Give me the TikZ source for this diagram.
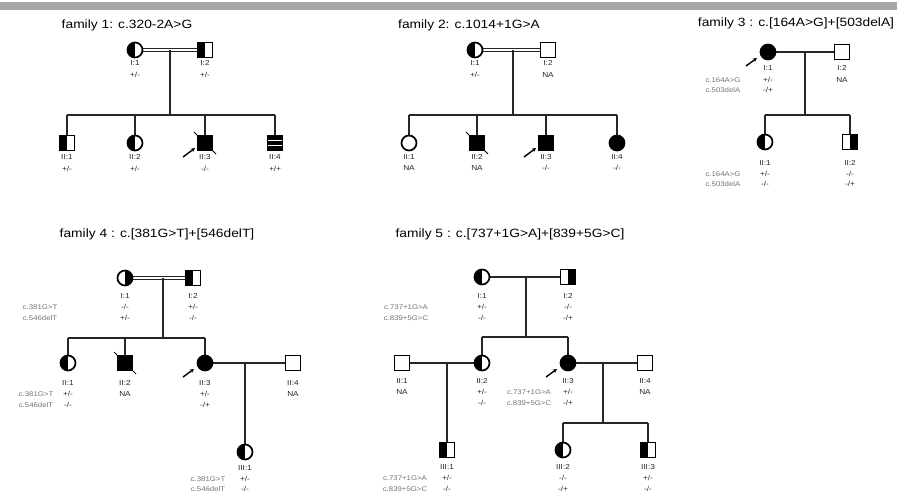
\documentclass[tikz,border=0pt]{standalone}
\usepackage{fontspec}
\setmainfont[FakeStretch=1.15]{Liberation Sans}
\usetikzlibrary{calc,arrows.meta,backgrounds}
\tikzset{
  ln/.style={line width=1.6pt, draw=black!85},
  dl/.style={line width=1.2pt, draw=black!85},
  sym/.style={draw=black, line width=1.7pt, fill=white, inner sep=0pt, minimum size=15pt},
  mal/.style={sym, rectangle},
  fem/.style={sym, circle},
  aff/.style={fill=black},
  hl/.style={path picture={\fill[black] (path picture bounding box.south west) rectangle (path picture bounding box.north);}},
  hr/.style={path picture={\fill[black] (path picture bounding box.south) rectangle (path picture bounding box.north east);}},
  striped/.style={fill=black, path picture={
      \draw[white, line width=1.3pt] ([yshift=2.5pt]path picture bounding box.west) -- ([yshift=2.5pt]path picture bounding box.east);
      \draw[white, line width=1.3pt] ([yshift=-2.5pt]path picture bounding box.west) -- ([yshift=-2.5pt]path picture bounding box.east);}},
  lab/.style={font=\fontsize{7.2}{8}\selectfont, inner sep=0pt, text=black!85},
  sml/.style={font=\fontsize{6.8}{7}\selectfont, inner sep=0pt, text=black!55},
  ttl/.style={font=\fontsize{12}{13}\selectfont, inner sep=0pt},
  dec/.style={line width=1pt, draw=black},
  prob/.style={-{Stealth[length=4pt,width=4pt]}, line width=1.4pt, draw=black}
}
\begin{document}
\begin{tikzpicture}[x=1pt,y=-1pt]
\useasboundingbox (0,0) rectangle (897,495);
\fill[black!35] (0,2) rectangle (897,10);

% ---------------- family 1
\node[ttl] (t1) at (127,25) {family 1: c.320-2A>G};
\node[fem,hl] (a1) at (135,50) {};
\node[mal,hl] (a2) at (205,50) {};
\node[mal,hl] (b1) at (67,143) {};
\node[fem,hl] (b2) at (135,143) {};
\node[mal,aff] (b3) at (205,143) {};
\node[mal,striped] (b4) at (275,143) {};
\coordinate (m1) at (170,50);
\coordinate (s1) at (170,115);
\node[lab] (a1n) at (135,63) {I:1};  \node[lab] (a1g) at (135,75) {+/-};
\node[lab] (a2n) at (205,63) {I:2};  \node[lab] (a2g) at (205,75) {+/-};
\node[lab] (b1n) at (67,157) {II:1}; \node[lab] (b1g) at (67,169) {+/-};
\node[lab] (b2n) at (135,157) {II:2}; \node[lab] (b2g) at (135,169) {+/-};
\node[lab] (b3n) at (205,157) {II:3}; \node[lab] (b3g) at (205,169) {-/-};
\node[lab] (b4n) at (275,157) {II:4}; \node[lab] (b4g) at (275,169) {+/+};

% ---------------- family 2
\node[ttl] (t2) at (469,25) {family 2: c.1014+1G>A};
\node[fem,hl] (c1) at (475,50) {};
\node[mal] (c2) at (548,50) {};
\node[fem] (d1) at (409,143) {};
\node[mal,aff] (d2) at (477,143) {};
\node[mal,aff] (d3) at (546,143) {};
\node[fem,aff] (d4) at (617,143) {};
\coordinate (m2) at (513,50);
\coordinate (s2) at (513,115);
\node[lab] (c1n) at (475,63) {I:1};  \node[lab] (c1g) at (475,75) {+/-};
\node[lab] (c2n) at (548,63) {I:2};  \node[lab] (c2g) at (548,75) {NA};
\node[lab] (d1n) at (409,157) {II:1}; \node[lab] (d1g) at (409,168) {NA};
\node[lab] (d2n) at (477,157) {II:2}; \node[lab] (d2g) at (477,168) {NA};
\node[lab] (d3n) at (546,157) {II:3}; \node[lab] (d3g) at (546,168) {-/-};
\node[lab] (d4n) at (617,157) {II:4}; \node[lab] (d4g) at (617,168) {-/-};

% ---------------- family 3
\node[ttl] (t3) at (796,23) {family 3 : c.[164A>G]+[503delA]};
\node[fem,aff] (e1) at (768,52) {};
\node[mal] (e2) at (842,52) {};
\node[fem,hl] (f1) at (765,142) {};
\node[mal,hr] (f2) at (850,142) {};
\coordinate (m3) at (805,52);
\coordinate (s3) at (805,115);
\node[lab] (e1n) at (768,68) {I:1};
\node[lab] (e1g) at (768,80) {+/-}; \node[lab] (e1h) at (768,90) {-/+};
\node[sml] (e1a) at (723,80) {c.164A>G}; \node[sml] (e1b) at (723,90) {c.503delA};
\node[lab] (e2n) at (842,68) {I:2};  \node[lab] (e2g) at (842,80) {NA};
\node[lab] (f1n) at (765,163) {II:1};
\node[lab] (f1g) at (765,174) {+/-}; \node[lab] (f1h) at (765,184) {-/-};
\node[sml] (f1a) at (723,174) {c.164A>G}; \node[sml] (f1b) at (723,184) {c.503delA};
\node[lab] (f2n) at (850,163) {II:2};
\node[lab] (f2g) at (850,174) {-/-}; \node[lab] (f2h) at (850,184) {-/+};

% ---------------- family 4
\node[ttl] (t4) at (157,234) {family 4 : c.[381G>T]+[546delT]};
\node[fem,hr] (g1) at (125,278) {};
\node[mal,hl] (g2) at (193,278) {};
\node[fem,hl] (h1) at (68,363) {};
\node[mal,aff] (h2) at (125,363) {};
\node[fem,aff] (h3) at (205,363) {};
\node[mal] (h4) at (293,363) {};
\node[fem,hl] (i1) at (245,452) {};
\coordinate (m4) at (163,278);
\coordinate (s4) at (163,338);
\coordinate (m4b) at (245,363);
\node[lab] (g1n) at (125,296) {I:1};
\node[lab] (g1g) at (125,307) {-/-}; \node[lab] (g1h) at (125,318) {+/-};
\node[sml] (g1a) at (40,307) {c.381G>T}; \node[sml] (g1b) at (40,318) {c.546delT};
\node[lab] (g2n) at (193,296) {I:2};
\node[lab] (g2g) at (193,307) {+/-}; \node[lab] (g2h) at (193,318) {-/-};
\node[lab] (h1n) at (68,383) {II:1};
\node[lab] (h1g) at (68,394) {+/-}; \node[lab] (h1h) at (68,405) {-/-};
\node[sml] (h1a) at (36,394) {c.381G>T}; \node[sml] (h1b) at (36,405) {c.546delT};
\node[lab] (h2n) at (125,383) {II:2}; \node[lab] (h2g) at (125,394) {NA};
\node[lab] (h3n) at (205,383) {II:3};
\node[lab] (h3g) at (205,394) {+/-}; \node[lab] (h3h) at (205,405) {-/+};
\node[lab] (h4n) at (293,383) {II:4}; \node[lab] (h4g) at (293,394) {NA};
\node[lab] (i1n) at (245,468) {III:1};
\node[lab] (i1g) at (245,479) {+/-}; \node[lab] (i1h) at (245,489) {-/-};
\node[sml] (i1a) at (208,479) {c.381G>T}; \node[sml] (i1b) at (208,489) {c.546delT};

% ---------------- family 5
\node[ttl] (t5) at (510,234) {family 5 : c.[737+1G>A]+[839+5G>C]};
\node[fem,hl] (j1) at (482,277) {};
\node[mal,hr] (j2) at (568,277) {};
\node[mal] (k1) at (402,363) {};
\node[fem,hl] (k2) at (482,363) {};
\node[fem,aff] (k3) at (568,363) {};
\node[mal] (k4) at (645,363) {};
\node[mal,hl] (l1) at (447,450) {};
\node[fem,hl] (l2) at (563,450) {};
\node[mal,hl] (l3) at (648,450) {};
\coordinate (m5) at (526,277);
\coordinate (s5) at (526,337);
\coordinate (m5b) at (447,363);
\coordinate (m5c) at (603,363);
\coordinate (s5c) at (603,423);
\node[lab] (j1n) at (482,296) {I:1};
\node[lab] (j1g) at (482,307) {+/-}; \node[lab] (j1h) at (482,318) {-/-};
\node[sml] (j1a) at (406,307) {c.737+1G>A}; \node[sml] (j1b) at (406,318) {c.839+5G>C};
\node[lab] (j2n) at (568,296) {I:2};
\node[lab] (j2g) at (568,307) {-/-}; \node[lab] (j2h) at (568,318) {-/+};
\node[lab] (k1n) at (402,381) {II:1}; \node[lab] (k1g) at (402,392) {NA};
\node[lab] (k2n) at (482,381) {II:2};
\node[lab] (k2g) at (482,392) {+/-}; \node[lab] (k2h) at (482,403) {-/-};
\node[lab] (k3n) at (568,381) {II:3};
\node[lab] (k3g) at (568,392) {+/-}; \node[lab] (k3h) at (568,403) {-/+};
\node[sml] (k3a) at (529,392) {c.737+1G>A}; \node[sml] (k3b) at (529,403) {c.839+5G>C};
\node[lab] (k4n) at (645,381) {II:4}; \node[lab] (k4g) at (645,392) {NA};
\node[lab] (l1n) at (447,467) {III:1};
\node[lab] (l1g) at (447,478) {+/-}; \node[lab] (l1h) at (447,489) {-/-};
\node[sml] (l1a) at (405,478) {c.737+1G>A}; \node[sml] (l1b) at (405,489) {c.839+5G>C};
\node[lab] (l2n) at (563,467) {III:2};
\node[lab] (l2g) at (563,478) {-/-}; \node[lab] (l2h) at (563,489) {-/+};
\node[lab] (l3n) at (648,467) {III:3};
\node[lab] (l3g) at (648,478) {+/-}; \node[lab] (l3h) at (648,489) {-/-};

% ---------------- connectors
\begin{scope}[on background layer]
  % fam 1
  \draw[dl] ([yshift=1.8pt]a1.center) -- ([yshift=1.8pt]a2.center);
  \draw[dl] ([yshift=-1.8pt]a1.center) -- ([yshift=-1.8pt]a2.center);
  \draw[ln] (m1) -- (s1);
  \draw[ln] (b1 |- s1) -- (b4 |- s1);
  \foreach \n in {b1,b2,b3,b4} \draw[ln] (\n) -- (\n |- s1);
  % fam 2
  \draw[dl] ([yshift=1.8pt]c1.center) -- ([yshift=1.8pt]c2.center);
  \draw[dl] ([yshift=-1.8pt]c1.center) -- ([yshift=-1.8pt]c2.center);
  \draw[ln] (m2) -- (s2);
  \draw[ln] (d1 |- s2) -- (d4 |- s2);
  \foreach \n in {d1,d2,d3,d4} \draw[ln] (\n) -- (\n |- s2);
  % fam 3
  \draw[ln] (e1) -- (e2);
  \draw[ln] (m3) -- (s3);
  \draw[ln] (f1 |- s3) -- (f2 |- s3);
  \foreach \n in {f1,f2} \draw[ln] (\n) -- (\n |- s3);
  % fam 4
  \draw[dl] ([yshift=1.8pt]g1.center) -- ([yshift=1.8pt]g2.center);
  \draw[dl] ([yshift=-1.8pt]g1.center) -- ([yshift=-1.8pt]g2.center);
  \draw[ln] (m4) -- (s4);
  \draw[ln] (h1 |- s4) -- (h3 |- s4);
  \foreach \n in {h1,h2,h3} \draw[ln] (\n) -- (\n |- s4);
  \draw[ln] (h3) -- (h4);
  \draw[ln] (m4b) -- (i1);
  % fam 5
  \draw[ln] (j1) -- (j2);
  \draw[ln] (m5) -- (s5);
  \draw[ln] (k2 |- s5) -- (k3 |- s5);
  \foreach \n in {k2,k3} \draw[ln] (\n) -- (\n |- s5);
  \draw[ln] (k1) -- (k2);
  \draw[ln] (m5b) -- (l1);
  \draw[ln] (k3) -- (k4);
  \draw[ln] (m5c) -- (s5c);
  \draw[ln] (l2 |- s5c) -- (l3 |- s5c);
  \foreach \n in {l2,l3} \draw[ln] (\n) -- (\n |- s5c);
\end{scope}

% deceased marks
\draw[dec] ($(b3)+(-11,-11)$) -- ($(b3)+(11,11)$);
\draw[dec] ($(d2)+(-11,-11)$) -- ($(d2)+(11,11)$);
\draw[dec] ($(h2)+(-11,-11)$) -- ($(h2)+(11,11)$);
% proband arrows
\draw[prob] ($(b3)+(-22,14)$) -- ($(b3)+(-10,5)$);
\draw[prob] ($(d3)+(-22,14)$) -- ($(d3)+(-10,5)$);
\draw[prob] ($(e1)+(-22,14)$) -- ($(e1)+(-11,6)$);
\draw[prob] ($(h3)+(-22,14)$) -- ($(h3)+(-11,6)$);
\draw[prob] ($(k3)+(-22,14)$) -- ($(k3)+(-11,6)$);
\end{tikzpicture}
\end{document}
